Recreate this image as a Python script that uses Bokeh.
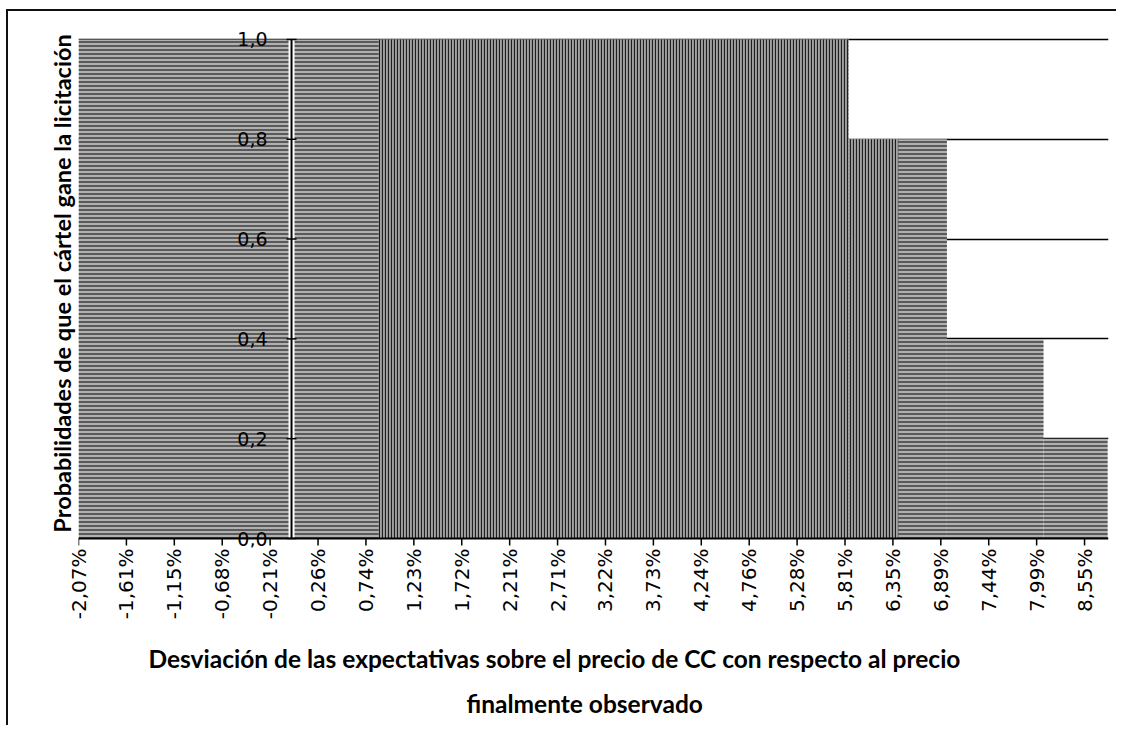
import math
import numpy as np
from bokeh.plotting import figure
from bokeh.models import FixedTicker, Range1d, Label, Span, Title
from bokeh.embed import file_html
from bokeh.resources import INLINE

# ---- data ----
tick_vals = [-2.07, -1.61, -1.15, -0.68, -0.21, 0.26, 0.74, 1.23, 1.72, 2.21, 2.71,
             3.22, 3.73, 4.24, 4.76, 5.28, 5.81, 6.35, 6.89, 7.44, 7.99, 8.55]
tick_labels = ["-2,07%", "-1,61%", "-1,15%", "-0,68%", "-0,21%", "0,26%", "0,74%",
               "1,23%", "1,72%", "2,21%", "2,71%", "3,22%", "3,73%", "4,24%", "4,76%",
               "5,28%", "5,81%", "6,35%", "6,89%", "7,44%", "7,99%", "8,55%"]
desv_inicio = [-2.07, 5.85, 6.96, 8.07]   # deviation where each probability level starts
desv_fin = [5.85, 6.96, 8.07, 8.82]       # deviation where it ends
prob = [1.0, 0.8, 0.4, 0.2]               # probability that the cartel wins
y_ticks = [0.0, 0.2, 0.4, 0.6, 0.8, 1.0]
y_labels = ["0,0", "0,2", "0,4", "0,6", "0,8", "1,0"]
titulo_x = ["Desviación de las expectativas sobre el precio de CC con respecto al precio",
            "finalmente observado"]
titulo_y = "Probabilidades de que el cártel gane la licitación"

# styles
banda_textura = [0.87, 6.41]   # band of the scanned fill with a vertical texture
TICK_LEN = 0.014               # x-axis tick length in probability units (~7 px)
TITLE_OFFSETS = [70, 388]      # left offset of each x-title line, px
TITLE_STANDOFFS = [38, -10]

idx = np.arange(len(tick_vals), dtype=float)


def pos(v):
    v = np.atleast_1d(np.asarray(v, dtype=float))
    out = np.interp(v, tick_vals, idx)
    step_hi = tick_vals[-1] - tick_vals[-2]
    step_lo = tick_vals[1] - tick_vals[0]
    out = np.where(v > tick_vals[-1], idx[-1] + (v - tick_vals[-1]) / step_hi, out)
    out = np.where(v < tick_vals[0], (v - tick_vals[0]) / step_lo, out)
    return out


p = figure(width=1110, height=716, x_range=Range1d(0, 21.5), y_range=Range1d(-0.018, 1.04),
           output_backend="svg", toolbar_location=None,
           min_border_left=70, min_border_right=10, min_border_top=8, min_border_bottom=180,
           background_fill_color="white", border_fill_color="white")
p.outline_line_color = None
p.styles = {"border-top": "2px solid #111", "border-left": "2px solid #111",
            "margin-top": "9px", "margin-left": "6px"}

# grid
p.xgrid.grid_line_color = None
p.ygrid.ticker = FixedTicker(ticks=y_ticks[1:])
p.ygrid.grid_line_color = "black"
p.ygrid.grid_line_width = 1.6

# step area
left = pos(desv_inicio)
right = pos(desv_fin)
p.quad(left=left, right=right, top=prob, bottom=[0] * len(prob),
       fill_color="#b0b0b0", line_color=None,
       hatch_pattern="horizontal_line", hatch_color="#111111",
       hatch_scale=4, hatch_weight=1.2, hatch_alpha=0.9)

b0, b1 = pos(banda_textura)
bl, br, bt = [], [], []
for l, r, t in zip(left, right, prob):
    ll, rr = max(l, b0), min(r, b1)
    if rr > ll:
        bl.append(ll); br.append(rr); bt.append(t)
p.quad(left=bl, right=br, top=bt, bottom=[0] * len(bt),
       fill_color="#a0a0a0", line_color=None,
       hatch_pattern="vertical_line", hatch_color="#111111",
       hatch_scale=3, hatch_weight=1.2, hatch_alpha=0.9)

# x axis line and ticks at probability 0
p.add_layout(Span(location=0, dimension="width", line_color="black", line_width=2))
p.segment(x0=idx, y0=[0] * len(idx), x1=idx, y1=[-TICK_LEN] * len(idx),
          line_color="black", line_width=1.5)

# y axis drawn where the deviation is 0
x0 = float(pos(0.0)[0])
p.segment(x0=[x0], y0=[y_ticks[0]], x1=[x0], y1=[y_ticks[-1]], line_color="white", line_width=6)
p.segment(x0=[x0], y0=[y_ticks[0]], x1=[x0], y1=[y_ticks[-1]], line_color="black", line_width=2)
p.scatter(x=[x0] * len(y_ticks), y=y_ticks, marker="dash", size=10,
          line_color="black", line_width=1.5)
for yv, lab in zip(y_ticks, y_labels):
    p.add_layout(Label(x=x0, y=yv, text=lab, x_offset=-24,
                       text_align="right", text_baseline="middle",
                       text_font="DejaVu Sans", text_font_size="19px",
                       text_color="black"))

# left axis: only the title
yax = p.yaxis[0]
yax.ticker = FixedTicker(ticks=[])
yax.axis_line_color = None
yax.major_tick_line_color = None
yax.minor_tick_line_color = None
yax.axis_label = titulo_y
yax.axis_label_text_font = "Lato"
yax.axis_label_text_font_style = "bold"
yax.axis_label_text_font_size = "23.5px"
yax.axis_label_text_color = "black"
yax.axis_label_standoff = 3

# bottom axis: tick labels only (line and ticks drawn at 0 above)
xax = p.xaxis[0]
xax.ticker = FixedTicker(ticks=[int(i) for i in idx])
xax.major_label_overrides = {int(i): lab for i, lab in zip(idx, tick_labels)}
xax.major_label_orientation = math.pi / 2
xax.major_label_text_font = "DejaVu Sans"
xax.major_label_text_font_size = "20px"
xax.major_label_text_color = "black"
xax.major_label_standoff = 1
xax.axis_line_color = None
xax.major_tick_line_color = None
xax.major_tick_in = 0
xax.major_tick_out = 0
xax.minor_tick_line_color = None

# x title, two lines
for txt, off, so in zip(titulo_x, TITLE_OFFSETS, TITLE_STANDOFFS):
    p.add_layout(Title(text=txt, align="left", offset=off, standoff=so,
                       text_font="Lato", text_font_style="bold",
                       text_font_size="24.5px", text_color="black"), "below")

open("out.html", "w").write(file_html(p, INLINE))
